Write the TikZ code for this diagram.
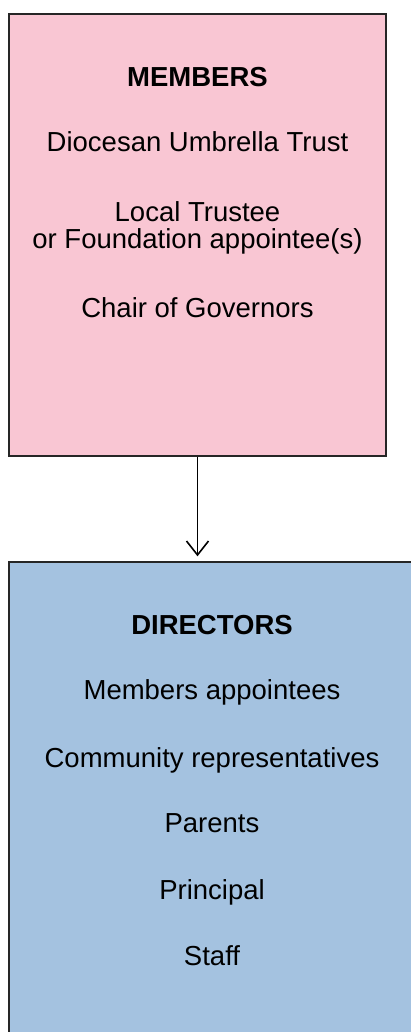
\documentclass[tikz,border=0pt]{standalone}
\usepackage{fontspec}
\setmainfont{Liberation Sans}
\usepackage{tikz}
\usetikzlibrary{
  arrows.meta
  , positioning
}
\definecolor{memberpink}{HTML}{F9C6D3}
\definecolor{directorblue}{HTML}{A4C2E0}

\begin{document}
\begin{tikzpicture}[x=1pt,y=-1pt,
    box/.style={draw=black!85, line width=1.4pt, inner sep=0pt},
    txt/.style={anchor=base, inner sep=0pt, font=\fontsize{27.5}{27}\selectfont},
  ]
      \useasboundingbox (0,0) rectangle (410,1032);

      % boxes
      \node [box, fill=memberpink,
        minimum width=377pt, minimum height=442pt] (members) at (197.5,235) {};
      \node [box, fill=directorblue,
        minimum width=420pt, minimum height=480pt] (directors) at (219,802) {};

      % members
      \node [txt, font=\fontsize{27.5}{27}\selectfont\bfseries] (mhead) at (197.5,87) {MEMBERS};
      \node [txt] (trust) at (197.5,152) {Diocesan Umbrella Trust};
      \node [txt] (local) at (197.5,222) {Local Trustee};
      \node [txt] (found) at (197.5,248) {or Foundation appointee(s)};
      \node [txt] (chair) at (197.5,317) {Chair of Governors};

      % directors
      \node [txt, font=\fontsize{27.5}{27}\selectfont\bfseries] (dhead) at (212,634) {DIRECTORS};
      \node [txt] (mapp) at (212,699) {Members appointees};
      \node [txt] (comm) at (212,767) {Community representatives};
      \node [txt] (par) at (212,832) {Parents};
      \node [txt] (prin) at (212,899) {Principal};
      \node [txt] (staff) at (212,965) {Staff};

      \draw [-{Straight Barb[length=14pt,width=22pt]}, line width=1.6pt,
        shorten >=5pt] (members.south) -- (members.south |- directors.north);
    \end{tikzpicture}
\end{document}
